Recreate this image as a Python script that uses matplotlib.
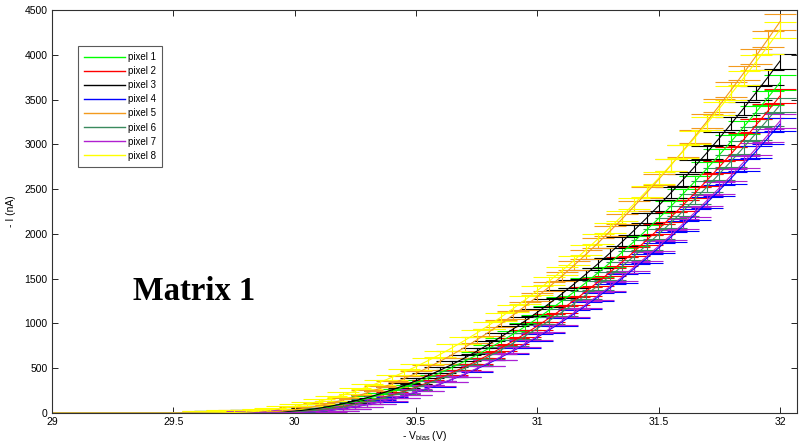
import numpy as np
import matplotlib
matplotlib.use('Agg')
import matplotlib.pyplot as plt
from matplotlib.lines import Line2D

plt.rcParams['font.family'] = ['Liberation Sans', 'DejaVu Sans']
plt.rcParams['mathtext.default'] = 'regular'

# bias sweep, 29 V to 32 V in 0.05 V steps
bias_v = np.linspace(29.0, 32.0, 61)
lead = [0] * 12  # 29.00 .. 29.55 V, no current

pixel1 = lead + [0, 1, 1, 2, 3, 4, 6, 10, 20, 33, 50, 72, 98, 128, 162, 200,
                 242, 287, 337, 391, 449, 511, 577, 647, 721, 798,
                 880, 966, 1056, 1150, 1247, 1349, 1455, 1565, 1679, 1796,
                 1918, 2044, 2173, 2307, 2445, 2587, 2732, 2882, 3036, 3193,
                 3355, 3521, 3690]
pixel2 = lead + [0, 0, 1, 1, 2, 3, 4, 6, 10, 20, 33, 50, 72, 98, 128, 163, 201,
                 243, 289, 339, 393, 452, 514, 580, 650, 725, 803,
                 885, 971, 1062, 1156, 1254, 1357, 1463, 1573, 1688, 1806,
                 1929, 2055, 2185, 2320, 2458, 2601, 2747, 2898, 3052, 3211,
                 3372, 3540]
pixel3 = lead + [0, 1, 1, 2, 3, 4, 6, 11, 21, 35, 53, 77, 104, 136, 172, 213,
                 257, 306, 359, 417, 478, 544, 614, 689, 767, 850,
                 937, 1029, 1124, 1224, 1328, 1437, 1550, 1666, 1788, 1913,
                 2043, 2177, 2315, 2457, 2604, 2755, 2910, 3069, 3233, 3401,
                 3573, 3749, 3930]
pixel4 = lead + [0, 0, 0, 1, 1, 2, 2, 3, 4, 9, 18, 31, 48, 69, 94, 123, 155, 192,
                 232, 276, 324, 376, 432, 491, 554, 622, 693, 767,
                 846, 929, 1015, 1105, 1199, 1297, 1399, 1504, 1614, 1727,
                 1844, 1965, 2089, 2218, 2350, 2486, 2626, 2770, 2918, 3070,
                 3225]
pixel5 = lead + [1, 1, 2, 3, 4, 6, 12, 22, 37, 56, 81, 111, 145, 183, 226,
                 273, 325, 382, 442, 508, 578, 652, 731, 815, 903,
                 996, 1093, 1194, 1300, 1411, 1526, 1646, 1770, 1898, 2032,
                 2169, 2312, 2458, 2609, 2765, 2926, 3090, 3260, 3433, 3612,
                 3795, 3982, 4174, 4370]
pixel6 = lead + [0, 0, 1, 1, 2, 3, 4, 5, 10, 19, 32, 49, 70, 96, 125, 158, 195,
                 236, 281, 330, 382, 439, 499, 564, 632, 704, 780,
                 860, 944, 1032, 1123, 1219, 1318, 1422, 1529, 1640, 1755,
                 1874, 1997, 2124, 2254, 2389, 2527, 2670, 2816, 2966, 3120,
                 3278, 3440]
pixel7 = lead + [0, 0, 0, 1, 1, 2, 2, 3, 4, 9, 18, 32, 49, 70, 95, 124, 157, 194,
                 235, 279, 328, 380, 436, 497, 561, 628, 700, 776,
                 855, 939, 1026, 1117, 1212, 1311, 1414, 1520, 1631, 1745,
                 1864, 1986, 2112, 2242, 2376, 2513, 2655, 2800, 2950, 3103,
                 3260]
pixel8 = lead + [1, 2, 3, 5, 10, 20, 34, 52, 74, 100, 130, 164, 203,
                 245, 292, 342, 397, 455, 518, 585, 655, 730, 809,
                 892, 979, 1070, 1165, 1264, 1367, 1475, 1586, 1701, 1821,
                 1944, 2071, 2203, 2338, 2478, 2622, 2769, 2921, 3077, 3237,
                 3400, 3568, 3740, 3916, 4096, 4280]

series = [pixel1, pixel2, pixel3, pixel4, pixel5, pixel6, pixel7, pixel8]
labels = ['pixel 1', 'pixel 2', 'pixel 3', 'pixel 4', 'pixel 5', 'pixel 6', 'pixel 7', 'pixel 8']
colors = ['#00ff00', '#ff0000', '#000000', '#0000ff', '#f39a1e', '#3a8a5e', '#b020d0', '#ffff00']

# error bar size: floor + relative part (nA)
err_floor = 25
err_rel = 0.015

fig = plt.figure(figsize=(7.99, 4.46), dpi=100)
ax = fig.add_axes([0.065, 0.074, 0.9325, 0.9036])

for vals, lab, c in zip(series, labels, colors):
    vals = np.array(vals, dtype=float)
    err = np.where(vals > 0, err_floor + err_rel * vals, 0)
    ax.errorbar(bias_v, vals, yerr=err, color=c, lw=0.8, elinewidth=0.8,
                capsize=11.5, capthick=0.8)

ax.set_xlim(29, 32.07)
ax.set_ylim(0, 4500)
ax.set_xticks([29, 29.5, 30, 30.5, 31, 31.5, 32])
ax.set_xticklabels(['29', '29.5', '30', '30.5', '31', '31.5', '32'])
ax.set_yticks(np.arange(0, 4501, 500))
ax.tick_params(direction='in', length=4, width=0.6, labelsize=7.5, top=True, right=True, pad=3)
for s in ax.spines.values():
    s.set_linewidth(0.8)
    s.set_color('#303030')

ax.set_xlabel('- V$_{bias}$ (V)', fontsize=7.5, labelpad=1)
ax.set_ylabel('- I (nA)', fontsize=7.5, labelpad=6)

# legend with plain line samples
handles = [Line2D([], [], color=c, lw=1.0) for c in colors]
leg = ax.legend(handles, labels, loc='upper left', bbox_to_anchor=(0.035, 0.91), fontsize=7,
                frameon=True, fancybox=False, handlelength=4.2, handletextpad=0.3,
                labelspacing=0.42, borderpad=0.6, borderaxespad=0)
leg.get_frame().set_edgecolor('#303030')
leg.get_frame().set_linewidth(0.8)

fig.text(133 / 799, 1 - 300 / 446, 'Matrix 1', family='Liberation Serif',
         fontweight='bold', fontsize=23.5, va='baseline', ha='left')

fig.savefig('out.png', dpi=100)
